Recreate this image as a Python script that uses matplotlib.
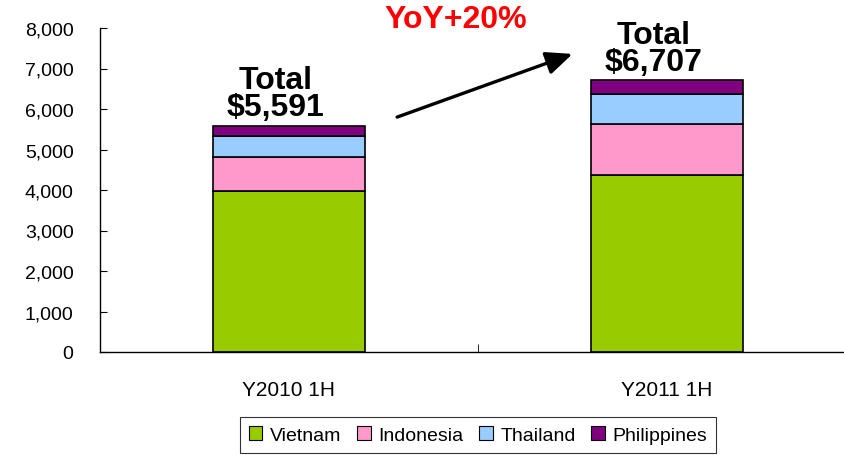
import matplotlib.pyplot as plt
from matplotlib.ticker import FuncFormatter

plt.rcParams['font.family'] = ['Liberation Sans', 'DejaVu Sans']

# data
periods = ["Y2010 1H", "Y2011 1H"]
countries = ["Vietnam", "Indonesia", "Thailand", "Philippines"]
vietnam = [3980, 4380]
indonesia = [830, 1240]
thailand = [520, 740]
philippines = [261, 347]
totals = [5591, 6707]
colors = ["#99CC00", "#FF99CC", "#99CCFF", "#800080"]

fig = plt.figure(figsize=(8.45, 4.56), dpi=100)
ax = fig.add_axes([100 / 845, 103 / 456, 756 / 845, 324 / 456])

x = list(range(len(periods)))
bottom = [0, 0]
for name, vals, c in zip(countries, [vietnam, indonesia, thailand, philippines], colors):
    ax.bar(x, vals, width=0.4, bottom=bottom, color=c, edgecolor="black",
           linewidth=1.2, label=name)
    bottom = [b + v for b, v in zip(bottom, vals)]

ax.set_xlim(-0.5, 1.5)
ax.set_ylim(0, 8000)
ax.set_yticks(range(0, 8001, 1000))
ax.yaxis.set_major_formatter(FuncFormatter(lambda v, p: f"{int(v):,}"))
ax.tick_params(axis="y", labelsize=14, direction="in", length=5, pad=19)

# category labels, boundary ticks on the x axis
ax.set_xticks(x)
ax.set_xticklabels(periods)
ax.tick_params(axis="x", which="major", length=0, labelsize=15, pad=20)
ax.set_xticks([0.5], minor=True)
ax.tick_params(axis="x", which="minor", direction="in", length=6)

for s in ["top", "right"]:
    ax.spines[s].set_visible(False)
ax.spines["left"].set_linewidth(1)
ax.spines["bottom"].set_linewidth(1)

# totals
for xi, t in zip(x, totals):
    ax.text(xi - 0.035, t + 260, f"Total\n${t:,}", ha="center", va="baseline",
            fontsize=23, fontweight="bold", linespacing=0.85)

# growth arrow + label
ax.annotate("", xy=(0.75, 7360), xytext=(0.286, 5800),
            arrowprops=dict(arrowstyle="-|>,head_length=1.6,head_width=0.7",
                            color="black", lw=2.4, shrinkA=0, shrinkB=0),
            annotation_clip=False)
ax.text(0.44, 8220, "YoY+20%", ha="center", va="center", color="red",
        fontsize=23, fontweight="bold")

leg = ax.legend(loc="upper center", bbox_to_anchor=(0.5, -0.202), ncol=4,
                frameon=True, fancybox=False, edgecolor="black", fontsize=14,
                handlelength=0.7, handleheight=0.7, handletextpad=0.4,
                columnspacing=0.8, borderpad=0.45, borderaxespad=0)
leg.get_frame().set_linewidth(0.8)
for h in leg.legend_handles:
    h.set_edgecolor("black")
    h.set_linewidth(0.8)

fig.savefig("out.png", dpi=100)
